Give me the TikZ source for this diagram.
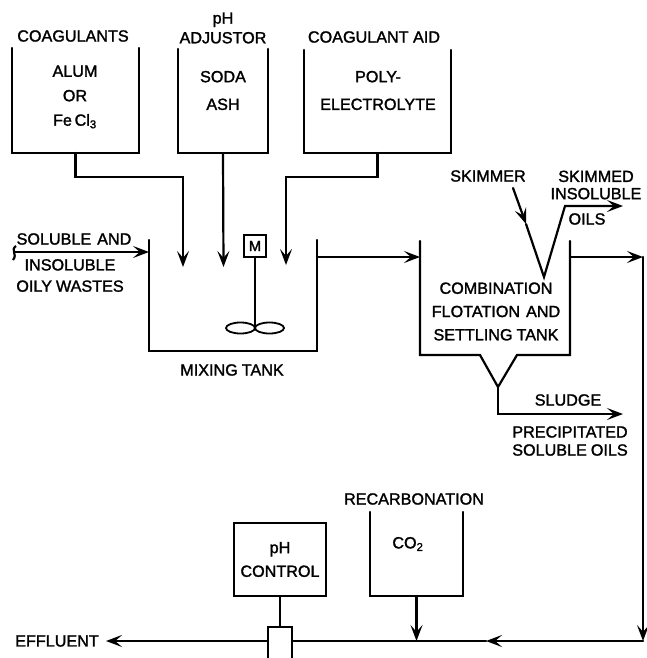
\documentclass[tikz,border=0pt]{standalone}
\usepackage{fontspec}
\setmainfont{Liberation Sans}[BoldFont={Liberation Sans},BoldFeatures={FakeBold=1.6}]
\usetikzlibrary{arrows.meta,positioning,calc}

\begin{document}
\begin{tikzpicture}[x=.25mm,y=-.25mm]
  \path[use as bounding box] (0,0) rectangle (646,658);

  \tikzset{
    tankBox/.style={
      inner sep=0pt,
      outer sep=0pt
    },
    closedBox/.style={
      draw=black,
      line width=.55mm,
      inner sep=0pt,
      outer sep=0pt
    },
    procText/.style={
      font=\fontsize{11.5}{14}\selectfont\bfseries,
      inner sep=0pt,
      align=center,
      text=black
    },
    procLine/.style={
      draw=black,
      line width=.55mm,
      line cap=round,
      line join=miter
    },
    procFlow/.style={
      procLine,
      -{Stealth[length=4mm,width=3mm,inset=1.7mm]}
    }
  }

  % chemical feed tanks
  \node[tankBox,minimum width=31.75mm,minimum height=26.25mm] (coag) at (75.5,100.5) {};
  \node[tankBox,minimum width=22.5mm,minimum height=26mm]     (soda) at (223,101) {};
  \node[tankBox,minimum width=36.75mm,minimum height=25.75mm] (poly) at (377.5,101.5) {};
  % process tanks
  \node[tankBox,minimum width=42mm,minimum height=27.75mm]    (mix)    at (233,295.5) {};
  \node[tankBox,minimum width=37.5mm,minimum height=28.5mm]   (flot)   at (495,298) {};
  \node[tankBox,minimum width=23.25mm,minimum height=21mm]    (recarb) at (416.5,554) {};

  \foreach \tank in {coag,soda,poly,mix,recarb}
    \draw[procLine] (\tank.north west) -- (\tank.south west)
      -- (\tank.south east) -- (\tank.north east);

  % settling tank has a sludge cone under it
  \coordinate (coneL) at (480,355);
  \coordinate (coneR) at (517,355);
  \coordinate (coneTip) at (498,387);
  \draw[procLine] (flot.north west) -- (flot.south west) -- (coneL) -- (coneTip)
    -- (coneR) -- (flot.south east) -- (flot.north east);

  \node[closedBox,minimum width=5.5mm,minimum height=5.5mm,font=\fontsize{10.5}{12}\selectfont\bfseries]
    (motor) at (255,246) {M};
  \node[closedBox,minimum width=23mm,minimum height=18.25mm,procText]
    (phbox) at (280,559.5) {pH\\[1mm]CONTROL};
  \node[tankBox,minimum width=6mm,minimum height=7.75mm] (valve) at (280,642.5) {};
  \draw[procLine] (valve.south west) -- (valve.north west)
    -- (valve.north east) -- (valve.south east);

  % labels
  \node[procText] (coagLabel)  at (73,36)   {COAGULANTS};
  \node[procText] (sodaLabel)  at (223,28)  {pH\\ADJUSTOR};
  \node[procText] (polyLabel)  at (374,37)  {COAGULANT AID};
  \node[procText] (alumText)   at (75,97)   {ALUM\\[1.2mm]OR\\[1.2mm]Fe\,Cl\textsubscript{3}};
  \node[procText] (sodaText)   at (223,90.5) {SODA\\[2mm]ASH};
  \node[procText] (polyText)   at (378,90.5) {POLY-\\[2mm]ELECTROLYTE};
  \node[procText] (feedTop)    at (74,239)  {SOLUBLE\hspace{1.5mm}AND};
  \node[procText] (feedBot)    at (70,275.5) {INSOLUBLE\\[.4mm]OILY\hspace{1mm}WASTES};
  \node[procText] (mixLabel)   at (232,370) {MIXING\hspace{1mm}TANK};
  \node[procText] (skimLabel)  at (488,176) {SKIMMER};
  \node[procText] (oilsTop)    at (596,185) {SKIMMED\\[-.6mm]INSOLUBLE};
  \node[procText] (oilsBot)    at (587,219) {OILS};
  \node[procText] (flotLabel)  at (496,311.5) {COMBINATION\\[.9mm]FLOTATION\hspace{1.5mm}AND\\[.9mm]SETTLING\hspace{1mm}TANK};
  \node[procText] (sludge)     at (568,400) {SLUDGE};
  \node[procText] (precip)     at (570,441) {PRECIPITATED\\[-.4mm]SOLUBLE\hspace{1mm}OILS};
  \node[procText] (recLabel)   at (414,499) {RECARBONATION};
  \node[procText] (coText)     at (408,544) {CO\textsubscript{2}};
  \node[procText] (effLabel)   at (57,641)  {EFFLUENT};

  % chemical feeds
  \coordinate (coagBend) at (183,177);
  \coordinate (coagIn)   at (183,267);
  \coordinate (sodaIn)   at (223.5,267);
  \coordinate (polyBend) at (286,177);
  \coordinate (polyIn)   at (286,265);
  \draw[procFlow] (coag.south) |- (coagBend) -- (coagIn);
  \draw[procFlow] (soda.south) -- (sodaIn);
  \draw[procFlow] (poly.south) |- (polyBend) -- (polyIn);

  % influent
  \coordinate (feedEnd)  at (14,252);
  \coordinate (feedIn)   at (mix.north west |- feedEnd);
  \draw[procFlow] (feedEnd) -- (feedIn);
  \draw[line width=.55mm] (16,246) .. controls (10,250) and (18,254) .. (13,260);

  % agitator
  \coordinate (shaftEnd) at (255,328);
  \draw[procLine] (motor.south) -- (shaftEnd);
  \draw[line width=.45mm] (shaftEnd) ++(-14.5,0) ellipse (14.5 and 5.5);
  \draw[line width=.45mm] (shaftEnd) ++(14.5,0) ellipse (14.5 and 5.5);

  % tank to tank
  \coordinate (mixOut) at (317,257);
  \draw[procFlow] (mixOut) -- (mixOut -| flot.west);

  % skimmer
  \coordinate (skimStart) at (513,188);
  \coordinate (skimMid)   at (526,224);
  \coordinate (skimTip)   at (544,277);
  \coordinate (oilBend)   at (565,206);
  \coordinate (oilOut)    at (623,206);
  \draw[procFlow] (skimStart) -- (skimMid);
  \draw[procFlow] (skimMid) -- (skimTip) -- (oilBend) -- (oilOut);

  % sludge line
  \coordinate (sludgeOut) at (623,414);
  \draw[procFlow] (coneTip) |- (sludgeOut);

  % effluent line
  \coordinate (flotOut)  at (570,257);
  \coordinate (riserTop) at (643,257);
  \coordinate (riserEnd) at (643,641);
  \coordinate (lineMid)  at (486,641);
  \coordinate (effEnd)   at (106,641);
  \draw[procFlow] (flotOut) -- (riserTop);
  \draw[procFlow] (riserTop) -- (riserEnd);
  \draw[procFlow] (riserEnd) -- (lineMid);
  \draw[procLine] (lineMid) -- (valve.east |- lineMid);
  \draw[procFlow] (valve.west |- lineMid) -- (effEnd);
  \draw[procLine] (phbox.south) -- (valve.north);
  \coordinate (recIn) at (416.5,641);
  \draw[procFlow] (recarb.south) -- (recIn);
\end{tikzpicture}
\end{document}
